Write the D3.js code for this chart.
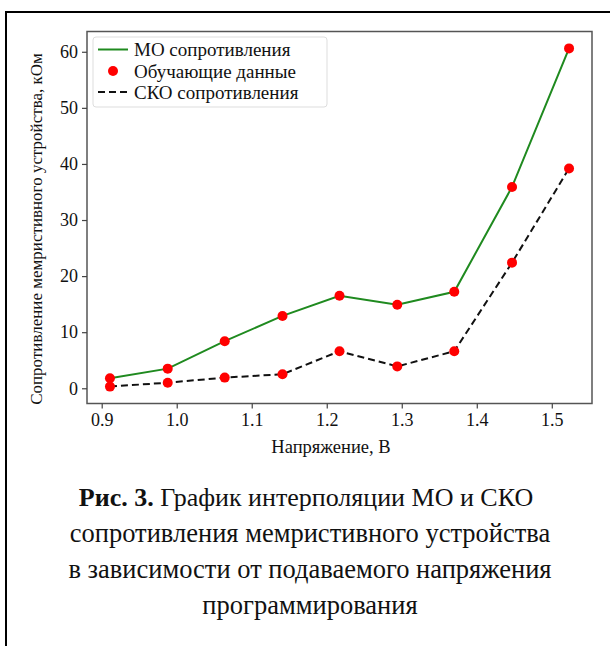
<!DOCTYPE html>
<html>
<head>
<meta charset="utf-8">
<script src="https://cdn.jsdelivr.net/npm/d3@7/dist/d3.min.js"></script>
<style>
  html, body { margin: 0; padding: 0; background: #fff; }
  svg { display: block; }
  svg text { font-family: "Liberation Serif", "Times New Roman", serif !important; fill: #111; }
</style>
</head>
<body>
<svg id="chart" width="610" height="646"></svg>
<script>
// Programming voltage, V
const voltage = [0.911, 0.988, 1.064, 1.141, 1.217, 1.294, 1.370, 1.447, 1.523];
// Mean resistance (МО), kOhm
const meanResistance = [1.8, 3.5, 8.4, 12.9, 16.5, 14.9, 17.2, 35.9, 60.6];
// Standard deviation of resistance (СКО), kOhm
const stdResistance = [0.3, 1.0, 1.9, 2.5, 6.6, 3.9, 6.6, 22.4, 39.2];

const xTicks = [0.9, 1.0, 1.1, 1.2, 1.3, 1.4, 1.5];
const yTicks = [0, 10, 20, 30, 40, 50, 60];

const legendLabels = ["МО сопротивления", "Обучающие данные", "СКО сопротивления"];
const xLabel = "Напряжение, В";
const yLabel = "Сопротивление мемристивного устройства, кОм";
const captionBold = "Рис. 3.";
const captionLines = [
  " График интерполяции МО и СКО",
  "сопротивления мемристивного устройства",
  "в зависимости от подаваемого напряжения",
  "программирования"
];

const SERIF = '"Liberation Serif", "Times New Roman", serif';
const svg = d3.select("#chart");

// page frame
svg.append("path")
  .attr("d", "M6,646 V12 H610")
  .attr("fill", "none")
  .attr("stroke", "#000")
  .attr("stroke-width", 2);

const plot = { left: 87, right: 592, top: 31.5, bottom: 403.5 };

// axis limits padded by 5% of the data range on each side
function padded(values) {
  const [lo, hi] = d3.extent(values);
  const p = (hi - lo) * 0.05;
  return [lo - p, hi + p];
}

const x = d3.scaleLinear()
  .domain(padded(voltage))
  .range([plot.left, plot.right]);
const y = d3.scaleLinear()
  .domain(padded(meanResistance.concat(stdResistance)))
  .range([plot.bottom, plot.top]);

// frame of the axes
svg.append("rect")
  .attr("x", plot.left).attr("y", plot.top)
  .attr("width", plot.right - plot.left)
  .attr("height", plot.bottom - plot.top)
  .attr("fill", "none")
  .attr("stroke", "#555")
  .attr("stroke-width", 1.5);

const xAxis = svg.append("g")
  .attr("transform", `translate(0,${plot.bottom})`)
  .call(d3.axisBottom(x).tickValues(xTicks).tickFormat(d3.format(".1f")).tickSize(5).tickPadding(5));
const yAxis = svg.append("g")
  .attr("transform", `translate(${plot.left},0)`)
  .call(d3.axisLeft(y).tickValues(yTicks).tickFormat(d3.format("d")).tickSize(5).tickPadding(4));

[xAxis, yAxis].forEach(g => {
  g.attr("font-family", SERIF).attr("font-size", 18);
  g.select(".domain").remove();
  g.selectAll(".tick line").attr("stroke", "#444").attr("stroke-width", 1.2);
  g.selectAll(".tick text")
    .style("font-family", SERIF)
    .style("font-size", "18px")
    .attr("fill", "#111");
});

// axis titles
svg.append("text")
  .attr("x", 331).attr("y", 453)
  .attr("text-anchor", "middle")
  .style("font-size", "18.5px")
  .text(xLabel);

svg.append("text")
  .attr("transform", "translate(42,229) rotate(-90)")
  .attr("text-anchor", "middle")
  .style("font-size", "17px")
  .text(yLabel);

// series lines
const seriesLine = d3.line().x((d, i) => x(voltage[i])).y(d => y(d));
svg.append("path")
  .datum(meanResistance)
  .attr("d", seriesLine)
  .attr("fill", "none")
  .attr("stroke", "#1f8a1f")
  .attr("stroke-width", 2);

svg.append("path")
  .datum(stdResistance)
  .attr("d", seriesLine)
  .attr("fill", "none")
  .attr("stroke", "#111")
  .attr("stroke-width", 2)
  .attr("stroke-dasharray", "7,4");

// training data points
const pts = voltage.flatMap((v, i) => [[v, meanResistance[i]], [v, stdResistance[i]]]);
svg.append("g")
  .selectAll("circle")
  .data(pts)
  .join("circle")
  .attr("cx", d => x(d[0]))
  .attr("cy", d => y(d[1]))
  .attr("r", 5)
  .attr("fill", "#ff0000");

// legend
const lg = svg.append("g").attr("transform", "translate(93,37)");
lg.append("rect")
  .attr("width", 234).attr("height", 70)
  .attr("rx", 3)
  .attr("fill", "#fff").attr("fill-opacity", 0.85)
  .attr("stroke", "#ddd").attr("stroke-width", 1);
const rowY = [12.5, 34, 55];
lg.append("line").attr("x1", 5).attr("x2", 35).attr("y1", rowY[0]).attr("y2", rowY[0])
  .attr("stroke", "#1f8a1f").attr("stroke-width", 2);
lg.append("circle").attr("cx", 20).attr("cy", rowY[1]).attr("r", 5).attr("fill", "#ff0000");
lg.append("line").attr("x1", 5).attr("x2", 35).attr("y1", rowY[2]).attr("y2", rowY[2])
  .attr("stroke", "#111").attr("stroke-width", 2).attr("stroke-dasharray", "7,4");
lg.selectAll("text.lbl")
  .data(legendLabels)
  .join("text")
  .attr("class", "lbl")
  .attr("x", 41)
  .attr("y", (d, i) => rowY[i])
  .attr("dy", "0.35em")
  .style("font-size", "19px")
  .text(d => d);

// figure caption
const baselines = [506, 542, 578, 614];
const first = svg.append("text")
  .attr("x", 306).attr("y", baselines[0])
  .attr("text-anchor", "middle")
  .style("font-size", "26px");
first.append("tspan").attr("font-weight", "bold").text(captionBold);
first.append("tspan").text(captionLines[0]);
captionLines.slice(1).forEach((t, i) => {
  svg.append("text")
    .attr("x", 310).attr("y", baselines[i + 1])
    .attr("text-anchor", "middle")
    .style("font-size", "26.5px")
    .text(t);
});
</script>
</body>
</html>
